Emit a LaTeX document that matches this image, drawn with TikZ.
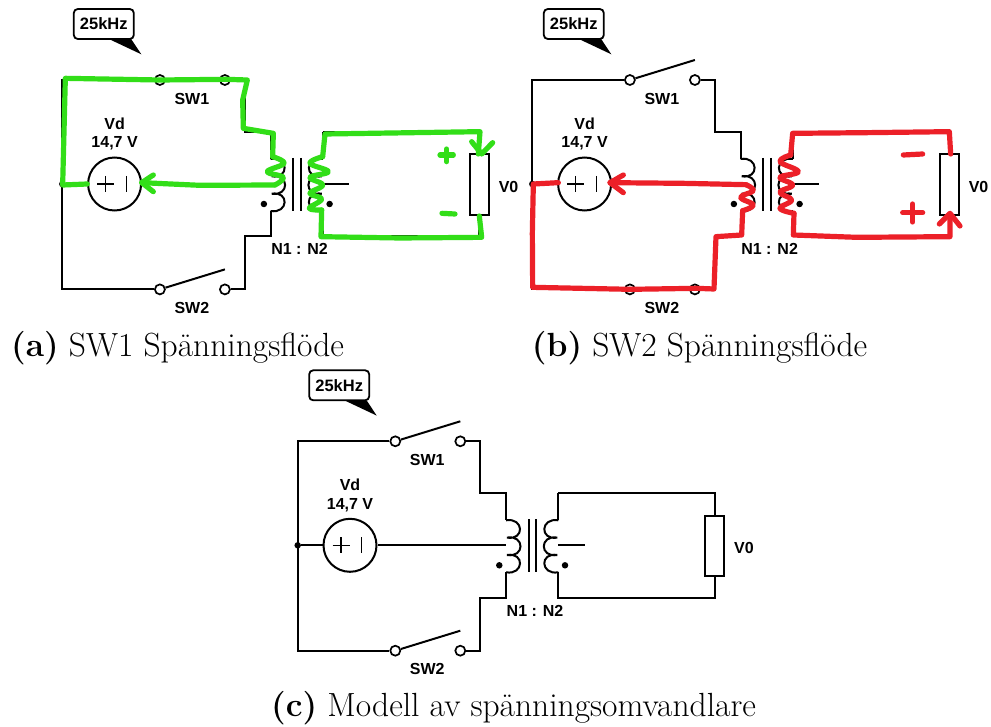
\documentclass[tikz,border=0pt]{standalone}
\usepackage{fontspec}
\newfontfamily\lab{Liberation Sans}
\definecolor{gtrace}{RGB}{50,222,24}
\definecolor{rtrace}{RGB}{236,32,40}
\tikzset{
  wire/.style={line width=2pt,black},
  thinw/.style={line width=1.3pt,black},
  term/.style={circle,draw=black,line width=1.7pt,fill=white,inner sep=0pt,minimum size=10pt},
  lbl/.style={font=\lab\bfseries\fontsize{16}{18}\selectfont,inner sep=0pt},
  calltxt/.style={font=\lab\bfseries\fontsize{16.5}{18}\selectfont,inner sep=0pt},
  captxt/.style={font=\fontsize{33.5}{38}\selectfont,anchor=base west,inner sep=0pt},
  callout/.style={rounded corners=4pt,draw=black,line width=1.8pt,fill=white,minimum width=60pt,minimum height=30pt,inner sep=0pt},
  srcnode/.style={circle,draw=black,line width=2pt,fill=white,inner sep=0pt,minimum size=53pt},
  resbox/.style={rectangle,draw=black,line width=2pt,fill=white,inner sep=0pt,minimum width=19.5pt,minimum height=60.5pt},
  jdot/.style={circle,fill=black,inner sep=0pt,minimum size=6.5pt},
  gmark/.style={line width=5.2pt,color=gtrace,line cap=round,line join=round},
  rmark/.style={line width=5.2pt,color=rtrace,line cap=round,line join=round},
}
\newcommand\drawcircuit[5]{%
  \begin{scope}[shift={(#2,#3)}]
    \coordinate (#1tl) at (0,0);
    \coordinate (#1bl) at (0,209.4);
    \node[jdot] (#1j) at (0,104) {};
    \node[srcnode] (#1src) at (52.3,104) {};
    \node[term] (#1s1a) at (97.6,0) {};
    \node[term] (#1s1b) at (162.6,0) {};
    \node[term] (#1s2a) at (97.6,209.4) {};
    \node[term] (#1s2b) at (162.6,209.4) {};
    \coordinate (#1s1r) at (182.3,0);
    \coordinate (#1s1d) at (182.3,51.7);
    \coordinate (#1pt) at (208.3,51.7);
    \coordinate (#1pc) at (208.3,79);
    \coordinate (#1pm) at (208.3,104);
    \coordinate (#1pe) at (208.3,131);
    \coordinate (#1pb) at (208.3,156.4);
    \coordinate (#1s2u) at (182.3,156.4);
    \coordinate (#1s2r) at (182.3,209.4);
    \coordinate (#1st) at (260.6,51.7);
    \coordinate (#1sc) at (260.6,79);
    \coordinate (#1sm) at (260.6,104);
    \coordinate (#1se) at (260.6,131);
    \coordinate (#1sb) at (260.6,156.4);
    \coordinate (#1tap) at (287,104);
    \coordinate (#1rt) at (417,51.7);
    \coordinate (#1rb) at (417,156.4);
    \node[resbox] (#1r) at (417,104.7) {};
    \draw[wire] (#1s1a) -- (#1tl) -- (#1bl) -- (#1s2a);
    \draw[wire] (#1j) -- (#1src);
    \draw[wire] (#1s1b) -- (#1s1r) -- (#1s1d) -- (#1pt) -- (#1pc);
    \draw[wire] (#1pe) -- (#1pb) -- (#1s2u) -- (#1s2r) -- (#1s2b);
    \draw[wire] (#1st) -- (#1sc);
    \draw[wire] (#1se) -- (#1sb) -- (#1rb) -- (#1r.south);
    \draw[wire] (#1st) -- (#1rt) -- (#1r.north);
    \draw[wire] (#1sm) -- (#1tap);
    \draw[wire] (#1src) -- (#1pm);
    \coordinate (#1pk1) at (209.3,96.3);
    \coordinate (#1pk2) at (209.3,113.7);
    \coordinate (#1sk1) at (259.6,96.3);
    \coordinate (#1sk2) at (259.6,113.7);
    \draw[wire] (#1pc) .. controls +(18,-3) and +(18,3) .. (#1pk1)
       .. controls +(18,-3) and +(18,3) .. (#1pk2)
       .. controls +(18,-3) and +(18,3) .. (#1pe);
    \draw[wire] (#1sc) .. controls +(-18,-3) and +(-18,3) .. (#1sk1)
       .. controls +(-18,-3) and +(-18,3) .. (#1sk2)
       .. controls +(-18,-3) and +(-18,3) .. (#1se);
    \coordinate (#1c1a) at (231,78); \coordinate (#1c1b) at (231,131);
    \coordinate (#1c2a) at (238.3,78); \coordinate (#1c2b) at (238.3,131);
    \draw[wire] (#1c1a) -- (#1c1b);
    \draw[wire] (#1c2a) -- (#1c2b);
    \node[jdot] (#1d1) at (201.6,124) {};
    \node[jdot] (#1d2) at (267.3,124) {};
    \draw[thinw] ([xshift=-17.5pt]#1src.center) -- ([xshift=-0.5pt]#1src.center);
    \draw[thinw] ([xshift=-9pt,yshift=8pt]#1src.center) -- ([xshift=-9pt,yshift=-8pt]#1src.center);
    \draw[thinw] ([xshift=11.7pt,yshift=8pt]#1src.center) -- ([xshift=11.7pt,yshift=-8pt]#1src.center);
    \coordinate (#1s1e) at (162.6,-20);
    \coordinate (#1s2e) at (162.6,189.4);
    \ifnum#4=1 \draw[wire] (#1s1a) -- (#1s1b); \else \draw[wire] (#1s1a) -- (#1s1e); \fi
    \ifnum#5=1 \draw[wire] (#1s2a) -- (#1s2b); \else \draw[wire] (#1s2a) -- (#1s2e); \fi
    \node[lbl] (#1l1) at (129.6,18.5) {SW1};
    \node[lbl] (#1l2) at (129.6,227.7) {SW2};
    \node[lbl] (#1lv) at (52.3,43.7) {Vd};
    \node[lbl] (#1lw) at (52.3,63.7) {14,7 V};
    \node[lbl] (#1ln) at (237.3,169.4) {N1 : N2};
    \node[lbl] (#1lo) at (446.3,106.7) {V0};
    \coordinate (#1ca) at (47,-40.8);
    \coordinate (#1cb) at (79,-25.7);
    \coordinate (#1cc) at (69,-40.8);
    \fill[black] (#1ca) -- (#1cb) -- (#1cc) -- cycle;
    \node[callout] (#1cal) at (41.5,-56) {};
    \node[calltxt] (#1calt) at (41.5,-56) {25kHz};
  \end{scope}}
\begin{document}
\begin{tikzpicture}[x=1pt,y=-1pt]
\useasboundingbox[fill=white] (0,0) rectangle (991,727);
\drawcircuit{a}{62.3}{80}{1}{0}
\drawcircuit{b}{532.3}{80}{0}{1}
\drawcircuit{c}{297.7}{441.3}{0}{0}
\node[captxt] (capa) at (11,356) {\textbf{(a)} SW1 Spänningsflöde};
\node[captxt] (capb) at (531.7,356) {\textbf{(b)} SW2 Spänningsflöde};
\node[captxt] (capc) at (271,716.7) {\textbf{(c)} Modell av spänningsomvandlare};
\begin{scope}[x=0.33333pt,y=-0.33333pt]
\draw[gmark] (262,552) -- (188,555) -- (196,235) -- (480,240) -- (680,238) -- (742,240) -- (728,300) -- (730,385) -- (820,400) -- (818,470);
\draw[gmark] plot[smooth,tension=.7] coordinates {(818,470) (852,490) (802,515) (850,532) (825,555)};
\draw[gmark] (825,555) -- (600,556) -- (425,548);
\draw[gmark] (460,525) -- (425,548) -- (460,575);
\draw[gmark] (1435,462) -- (1440,395) -- (975,402) -- (968,470);
\draw[gmark] plot[smooth,tension=.7] coordinates {(968,470) (930,490) (985,515) (930,532) (968,555) (930,580) (965,597) (928,625) (965,630)};
\draw[gmark] (965,630) -- (963,710) -- (1200,714) -- (1445,712) -- (1438,648);
\draw[gmark] (1415,425) -- (1445,462) -- (1478,428);
\draw[gmark] (1320,465) -- (1360,465);
\draw[gmark] (1340,447) -- (1340,485);
\draw[gmark] (1326,640) -- (1365,642);
\end{scope}
\begin{scope}[shift={(500,0)},x=0.33333pt,y=-0.33333pt]
\draw[rmark] (175,548) -- (100,552) -- (97,700) -- (98,862) -- (390,868) -- (590,865) -- (642,867) -- (648,710) -- (725,705) -- (728,632);
\draw[rmark] plot[smooth,tension=.7] coordinates {(728,632) (760,615) (722,592) (760,572) (738,554)};
\draw[rmark] (738,554) -- (550,550) -- (330,548);
\draw[rmark] (370,525) -- (330,548) -- (370,578);
\draw[rmark] (1352,462) -- (1348,395) -- (1100,398) -- (878,400) -- (872,465);
\draw[rmark] plot[smooth,tension=.7] coordinates {(872,465) (840,485) (895,515) (840,532) (878,555) (840,577) (875,600) (840,625) (882,640)};
\draw[rmark] (882,640) -- (880,705) -- (1070,712) -- (1350,710) -- (1350,645);
\draw[rmark] (1318,672) -- (1350,640) -- (1380,678);
\draw[rmark] (1210,465) -- (1268,462);
\draw[rmark] (1208,638) -- (1268,638);
\draw[rmark] (1238,612) -- (1238,666);
\end{scope}
\end{tikzpicture}
\end{document}
